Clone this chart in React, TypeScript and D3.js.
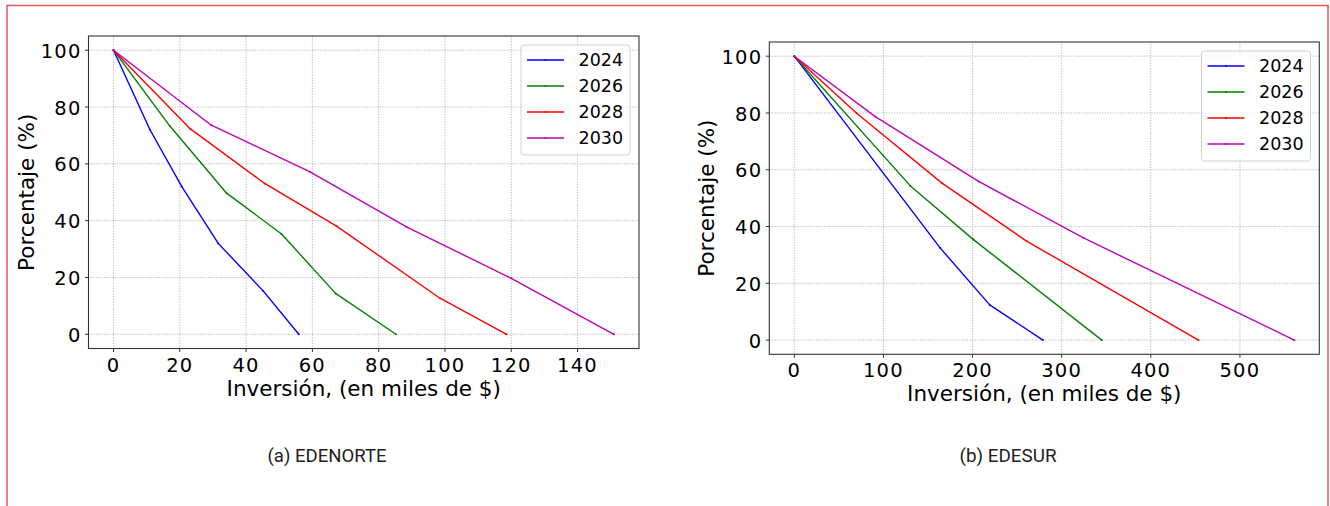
import React from "react";
import * as d3 from "d3";

// ---- Data: percentage remaining vs. investment (thousands of $) ----
const years = ["2024", "2026", "2028", "2030"];
const seriesColors = ["#0000ff", "#008000", "#ff0000", "#bf00bf"];

// EDENORTE
const edenorteX2024 = [0, 11.0, 20.6, 31.6, 45.2, 55.9];
const edenorteY2024 = [100, 72.0, 52.0, 32.0, 15.2, 0];
const edenorteX2026 = [0, 17.0, 34.0, 50.7, 67.0, 85.2];
const edenorteY2026 = [100, 73.3, 49.8, 35.3, 14.4, 0];
const edenorteX2028 = [0, 23.2, 45.6, 67.3, 98.5, 118.6];
const edenorteY2028 = [100, 72.3, 53.1, 38.1, 12.7, 0];
const edenorteX2030 = [0, 29.5, 59.3, 88.4, 120.0, 151.0];
const edenorteY2030 = [100, 73.6, 57.2, 37.8, 19.7, 0];

// EDESUR
const edesurX2024 = [0, 163.8, 219.3, 279.0];
const edesurY2024 = [100, 32.4, 12.4, 0];
const edesurX2026 = [0, 130.0, 201.0, 345.0];
const edesurY2026 = [100, 54.4, 35.4, 0];
const edesurX2028 = [0, 70.0, 165.7, 261.0, 453.5];
const edesurY2028 = [100, 79.9, 55.3, 34.8, 0];
const edesurX2030 = [0, 90.9, 206.8, 324.5, 561.0];
const edesurY2030 = [100, 78.7, 55.9, 36.0, 0];

const edenorteXTicks = [0, 20, 40, 60, 80, 100, 120, 140];
const edesurXTicks = [0, 100, 200, 300, 400, 500];
const yTicks = [0, 20, 40, 60, 80, 100];

const xLabel = "Inversión, (en miles de $)";
const yLabel = "Porcentaje (%)";

type Series = { name: string; color: string; xs: number[]; ys: number[] };

const edenorteSeries: Series[] = [
  { name: years[0], color: seriesColors[0], xs: edenorteX2024, ys: edenorteY2024 },
  { name: years[1], color: seriesColors[1], xs: edenorteX2026, ys: edenorteY2026 },
  { name: years[2], color: seriesColors[2], xs: edenorteX2028, ys: edenorteY2028 },
  { name: years[3], color: seriesColors[3], xs: edenorteX2030, ys: edenorteY2030 },
];
const edesurSeries: Series[] = [
  { name: years[0], color: seriesColors[0], xs: edesurX2024, ys: edesurY2024 },
  { name: years[1], color: seriesColors[1], xs: edesurX2026, ys: edesurY2026 },
  { name: years[2], color: seriesColors[2], xs: edesurX2028, ys: edesurY2028 },
  { name: years[3], color: seriesColors[3], xs: edesurX2030, ys: edesurY2030 },
];

const FONT = "'DejaVu Sans', sans-serif";
const TICK_FS = 19.5;
const LABEL_FS = 21.5;
const LEGEND_FS = 17.5;

type PanelProps = {
  left: number;
  top: number;
  width: number;
  height: number;
  series: Series[];
  xTicks: number[];
  legendLeft: number;
  legendTop: number;
};

function Panel({ left, top, width, height, series, xTicks, legendLeft, legendTop }: PanelProps) {
  const xMax = d3.max(series, (s) => d3.max(s.xs) as number) as number;
  const xMin = 0;
  const pad = (xMax - xMin) * 0.05;
  const x = d3.scaleLinear().domain([xMin - pad, xMax + pad]).range([left, left + width]);
  const y = d3.scaleLinear().domain([-5, 105]).range([top + height, top]);
  const line = d3
    .line<[number, number]>()
    .x((d) => x(d[0]))
    .y((d) => y(d[1]));
  const bottom = top + height;
  const right = left + width;
  const gridStyle = { stroke: "#b0b0b0", strokeWidth: 0.9, strokeDasharray: "1.2,1.4" };

  return (
    <g>
      {/* grid */}
      {xTicks.map((t) => (
        <line key={"gx" + t} x1={x(t)} x2={x(t)} y1={top} y2={bottom} style={gridStyle} />
      ))}
      {yTicks.map((t) => (
        <line key={"gy" + t} x1={left} x2={right} y1={y(t)} y2={y(t)} style={gridStyle} />
      ))}
      {/* series */}
      {series.map((s) => {
        const pts = s.xs.map((v, i) => [v, s.ys[i]] as [number, number]);
        return (
          <g key={s.name}>
            <path d={line(pts) || ""} fill="none" stroke={s.color} strokeWidth={1.4} strokeLinejoin="round" />
            {pts.map((p, i) => (
              <circle key={i} cx={x(p[0])} cy={y(p[1])} r={1} fill={s.color} />
            ))}
          </g>
        );
      })}
      {/* spines */}
      <rect x={left} y={top} width={width} height={height} fill="none" stroke="#333" strokeWidth={1.1} />
      {/* x ticks */}
      {xTicks.map((t) => (
        <g key={"tx" + t}>
          <line x1={x(t)} x2={x(t)} y1={bottom} y2={bottom + 3.5} stroke="#333" strokeWidth={1} />
          <text
            x={x(t)}
            y={bottom + 23}
            textAnchor="middle"
            fontFamily={FONT}
            fontSize={TICK_FS}
            letterSpacing={1.2}
            fill="#000"
          >
            {t}
          </text>
        </g>
      ))}
      {/* y ticks */}
      {yTicks.map((t) => (
        <g key={"ty" + t}>
          <line x1={left - 3.5} x2={left} y1={y(t)} y2={y(t)} stroke="#333" strokeWidth={1} />
          <text
            x={left - 7}
            y={y(t) + 7.6}
            textAnchor="end"
            fontFamily={FONT}
            fontSize={TICK_FS}
            letterSpacing={1.2}
            fill="#000"
          >
            {t}
          </text>
        </g>
      ))}
      {/* axis labels */}
      <text x={(left + right) / 2} y={bottom + 47} textAnchor="middle" fontFamily={FONT} fontSize={LABEL_FS} fill="#000">
        {xLabel}
      </text>
      <text
        transform={`translate(${left - 55},${(top + bottom) / 2}) rotate(-90)`}
        textAnchor="middle"
        fontFamily={FONT}
        fontSize={LABEL_FS}
        fill="#000"
      >
        {yLabel}
      </text>
      {/* legend */}
      <rect
        x={legendLeft}
        y={legendTop}
        width={109}
        height={110}
        rx={3}
        fill="#fff"
        fillOpacity={0.8}
        stroke="#d0d0d0"
        strokeWidth={1}
      />
      {series.map((s, i) => {
        const cy = legendTop + 15 + i * 26;
        return (
          <g key={"lg" + s.name}>
            <line x1={legendLeft + 6} x2={legendLeft + 43} y1={cy} y2={cy} stroke={s.color} strokeWidth={1.4} />
            <circle cx={legendLeft + 24.5} cy={cy} r={1} fill={s.color} />
            <text x={legendLeft + 57.5} y={cy + 6.2} fontFamily={FONT} fontSize={LEGEND_FS} fill="#000">
              {s.name}
            </text>
          </g>
        );
      })}
    </g>
  );
}

export default function App() {
  const W = 1330;
  const H = 506;
  const captionFont = "'Liberation Sans Narrow', 'Roboto', 'DejaVu Sans Condensed', sans-serif";
  return (
    <svg
      width={W}
      height={H}
      viewBox={`0 0 ${W} ${H}`}
      style={{ position: "absolute", left: 0, top: 0, background: "#fff" }}
    >
      <rect x={0} y={0} width={W} height={H} fill="#fff" />
      {/* page frame */}
      <path d={`M7,${H} L7,5.5 L1328,5.5 L1328,${H}`} fill="none" stroke="#e05a5a" strokeWidth={1.5} />

      <Panel
        left={88.5}
        top={36}
        width={550.5}
        height={312.5}
        series={edenorteSeries}
        xTicks={edenorteXTicks}
        legendLeft={521}
        legendTop={45}
      />
      <Panel
        left={769.3}
        top={42}
        width={550}
        height={312.3}
        series={edesurSeries}
        xTicks={edesurXTicks}
        legendLeft={1201.5}
        legendTop={51}
      />

      <text x={327} y={461.5} textAnchor="middle" fontFamily={captionFont} fontSize={19} fill="#222" textLength={119} lengthAdjust="spacingAndGlyphs">
        (a) EDENORTE
      </text>
      <text x={1008} y={461.5} textAnchor="middle" fontFamily={captionFont} fontSize={19} fill="#222" textLength={97} lengthAdjust="spacingAndGlyphs">
        (b) EDESUR
      </text>
    </svg>
  );
}
